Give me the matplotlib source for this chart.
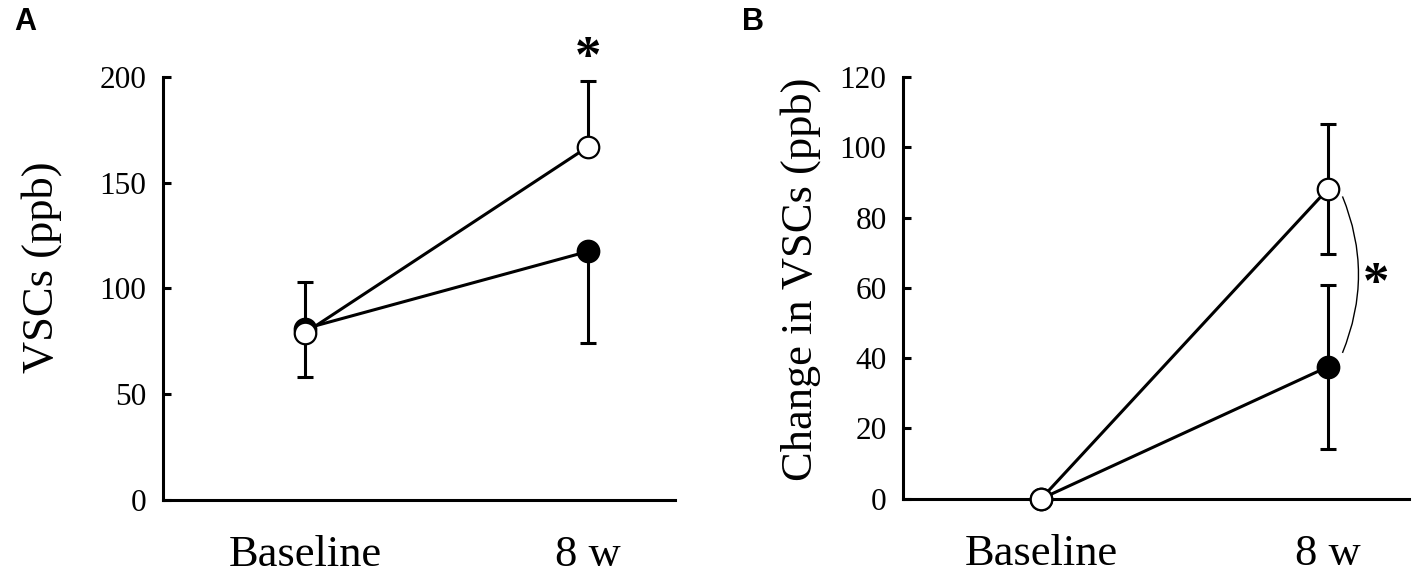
import matplotlib.pyplot as plt
from matplotlib.patches import PathPatch
from matplotlib.path import Path
import numpy as np

plt.rcParams['font.family'] = ['Liberation Serif', 'DejaVu Serif']

# data
times = ['Baseline', '8 w']

# panel A: VSCs (ppb)
a_open = [79, 167]
a_open_lo = [21, 0]
a_open_hi = [0, 31]
a_filled = [81, 117.5]
a_filled_lo = [0, 43.5]
a_filled_hi = [22, 0]

# panel B: change in VSCs (ppb)
b_open = [0, 88]
b_open_err = [0, 18.5]
b_filled = [0, 37.5]
b_filled_err = [0, 23.4]

x = np.arange(len(times))

fig = plt.figure(figsize=(14.18, 5.78), dpi=100)
axA = fig.add_axes([0.115, 0.135, 0.361, 0.732])
axB = fig.add_axes([0.637, 0.137, 0.357, 0.730])

lw = 2.2
ms = 15.5
cap = 5.5


def style(ax, ylim, yticks, ylabel, lab_x, lab_y, xlim):
    ax.set_ylim(*ylim)
    ax.set_xlim(*xlim)
    ax.set_yticks(yticks)
    ax.set_xticks(x)
    ax.set_xticklabels(times, fontsize=32)
    ax.tick_params(axis='x', length=0, pad=25)
    ax.tick_params(axis='y', direction='in', length=6, width=2.2, labelsize=22.5, pad=12)
    for s in ['top', 'right']:
        ax.spines[s].set_visible(False)
    for s in ['left', 'bottom']:
        ax.spines[s].set_linewidth(2.2)
    ax.set_ylabel(ylabel, fontsize=32)
    ax.yaxis.set_label_coords(lab_x, lab_y)


# panel A
axA.errorbar(x, a_filled, yerr=[a_filled_lo, a_filled_hi], fmt='none',
             ecolor='black', elinewidth=lw, capsize=cap, capthick=lw, zorder=2)
axA.errorbar(x, a_open, yerr=[a_open_lo, a_open_hi], fmt='none',
             ecolor='black', elinewidth=lw, capsize=cap, capthick=lw, zorder=2)
axA.plot(x, a_filled, color='black', lw=lw, marker='o', ms=ms,
         mfc='black', mec='black', mew=1.6, zorder=3)
axA.plot(x, a_open, color='black', lw=lw, marker='o', ms=ms,
         mfc='white', mec='black', mew=1.6, zorder=4)
style(axA, (0, 200), [0, 50, 100, 150, 200], 'VSCs (ppb)', -0.197, 0.55, (-0.502, 1.307))
axA.text(1, 197, '*', ha='center', va='bottom', fontsize=38, fontweight='bold',
         clip_on=False)

# panel B
axB.errorbar(x[1:], b_filled[1:], yerr=b_filled_err[1:], fmt='none',
             ecolor='black', elinewidth=lw, capsize=cap, capthick=lw, zorder=2)
axB.errorbar(x[1:], b_open[1:], yerr=b_open_err[1:], fmt='none',
             ecolor='black', elinewidth=lw, capsize=cap, capthick=lw, zorder=2)
axB.plot(x, b_filled, color='black', lw=lw, marker='o', ms=ms,
         mfc='black', mec='black', mew=1.6, zorder=3, clip_on=False)
axB.plot(x, b_open, color='black', lw=lw, marker='o', ms=ms,
         mfc='white', mec='black', mew=1.6, zorder=4, clip_on=False)
style(axB, (0, 120), [0, 20, 40, 60, 80, 100, 120], 'Change in VSCs (ppb)',
      -0.162, 0.521, (-0.481, 1.286))

# significance bracket
br = Path([(1.052, 86), (1.164, 63.8), (1.052, 41.5)],
          [Path.MOVETO, Path.CURVE3, Path.CURVE3])
axB.add_patch(PathPatch(br, fill=False, lw=1.0, color='black', clip_on=False))
axB.text(1.17, 60.8, '*', ha='center', va='center', fontsize=38, fontweight='bold',
         clip_on=False)

fig.text(0.010, 0.988, 'A', fontsize=22, fontweight='bold', family='Liberation Sans',
         ha='left', va='top')
fig.text(0.523, 0.988, 'B', fontsize=22, fontweight='bold', family='Liberation Sans',
         ha='left', va='top')

fig.savefig('out.png', dpi=100)
